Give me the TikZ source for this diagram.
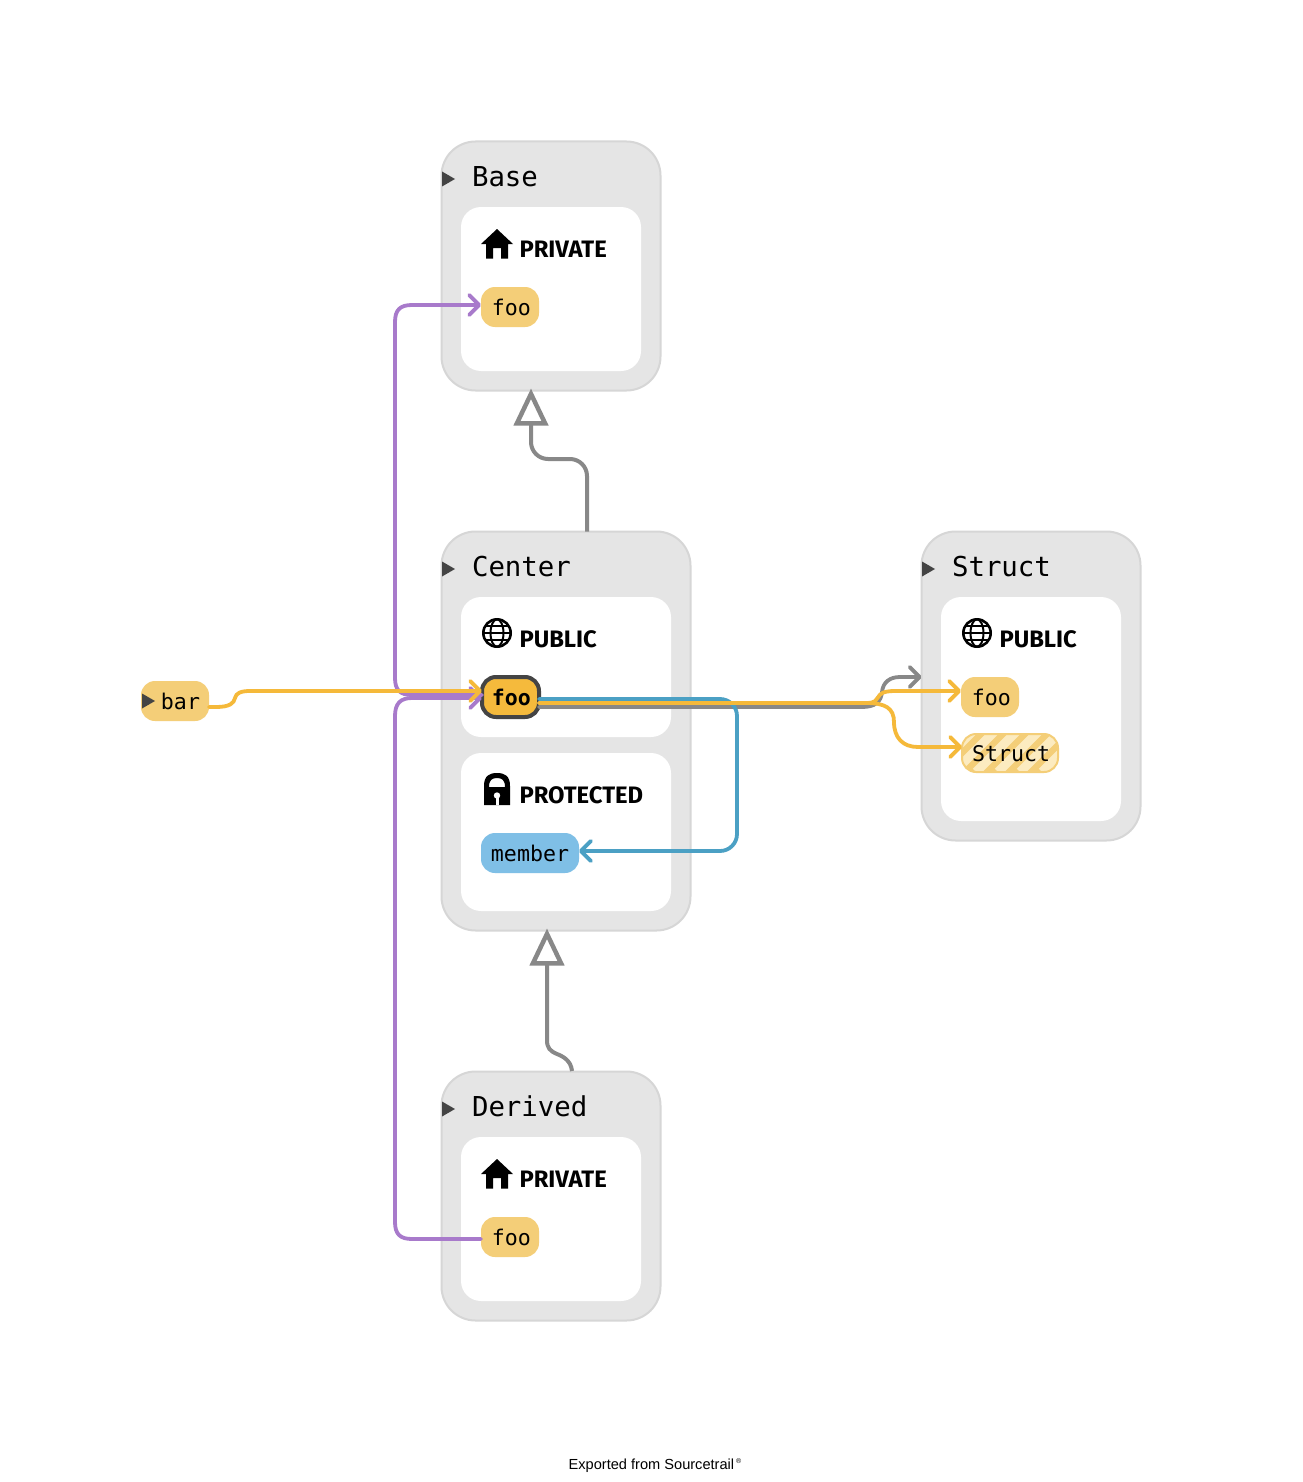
\documentclass[tikz,border=0pt]{standalone}
\usepackage{fontspec}
\setmainfont{Liberation Sans}
\newfontfamily\codefont{DejaVu Sans Mono}
\newfontfamily\accfont{Fira Sans}[UprightFont=* Bold]
\newfontfamily\footfont{Liberation Sans}
\usetikzlibrary{arrows.meta,calc}
\definecolor{grpfill}{HTML}{E5E5E5}
\definecolor{grpline}{HTML}{D6D6D6}
\definecolor{fnfill}{HTML}{F4CE78}
\definecolor{fnactive}{HTML}{F5BA3C}
\definecolor{varfill}{HTML}{7FBFE6}
\definecolor{stripe}{HTML}{FCEBC0}
\definecolor{dark}{HTML}{444444}
\definecolor{inhgray}{HTML}{888888}
\definecolor{ovpurple}{HTML}{A87ACB}
\definecolor{callyel}{HTML}{F5B93A}
\definecolor{useblue}{HTML}{4BA0C4}
\tikzset{
  x=1pt,y=-1pt,
  grp/.style={draw=grpline,line width=2pt,fill=grpfill,rounded corners=34pt,anchor=north west,inner sep=0pt,outer sep=0pt},
  inner box/.style={fill=white,rounded corners=20pt,anchor=north west,inner sep=0pt,outer sep=0pt},
  member/.style={rounded corners=14pt,anchor=north west,inner sep=0pt,outer sep=0pt,minimum height=40pt,text height=17pt,text depth=0pt,
    font=\codefont\fontsize{21.6}{24}\selectfont,text=black},
  fn/.style={member,fill=fnfill},
  title/.style={anchor=base west,inner sep=0pt,outer sep=0pt,font=\codefont\fontsize{27.4}{30}\selectfont,text=black},
  access/.style={anchor=base west,inner sep=0pt,outer sep=0pt,font=\accfont\fontsize{23.8}{28}\selectfont,text=black},
  expander/.style={fill=dark,draw=none},
  edge base/.style={line width=3.8pt,line cap=round},
  chev/.style={-{Straight Barb[length=10pt,width=20pt,line width=3.8pt,round]}},
  inherit/.style={line width=4pt,draw=inhgray,shorten >=-2pt,-{Triangle[open,length=37pt,width=34pt,line width=4.5pt,fill=white]}},
  purple edge/.style={edge base,draw=ovpurple},
  yellow edge/.style={edge base,draw=callyel},
  blue edge/.style={edge base,draw=useblue},
  gray edge/.style={edge base,draw=inhgray},
}
\newcommand{\houseicon}[2]{%
  \fill[black] (#1-16,#2+15) -- (#1,#2) -- (#1+16,#2+15) -- (#1+11,#2+15) -- (#1+11,#2+29.5) -- (#1+4,#2+29.5) -- (#1+4,#2+19) -- (#1-4,#2+19) -- (#1-4,#2+29.5) -- (#1-11,#2+29.5) -- (#1-11,#2+15) -- cycle;
}
\newcommand{\globeicon}[2]{%
  \begin{scope}[draw=black,line width=2.6pt]
    \draw (#1,#2) circle[radius=13.7];
    \draw[line width=2pt] (#1,#2) ellipse[x radius=6.5,y radius=13.7];
    \draw[line width=2pt] (#1-13.7,#2) -- (#1+13.7,#2);
    \draw[line width=2pt] (#1-11.5,#2-7) -- (#1+11.5,#2-7);
    \draw[line width=2pt] (#1-11.5,#2+7) -- (#1+11.5,#2+7);
  \end{scope}
}
\newcommand{\lockicon}[2]{%
  \fill[black,even odd rule] (#1-13,#2+32) -- (#1-13,#2+13) .. controls (#1-13,#2+3) and (#1-8,#2) .. (#1,#2) .. controls (#1+8,#2) and (#1+13,#2+3) .. (#1+13,#2+13) -- (#1+13,#2+32) -- cycle
    (#1-8,#2+14) .. controls (#1-8,#2+7) and (#1-5,#2+5) .. (#1,#2+5) .. controls (#1+5,#2+5) and (#1+8,#2+7) .. (#1+8,#2+14) -- cycle;
  \fill[white] (#1,#2+22.5) circle[radius=3.2];
  \fill[white] (#1-1.5,#2+22.5) rectangle (#1+1.5,#2+32);
}
\begin{document}
\begin{tikzpicture}
\useasboundingbox (0,0) rectangle (1302,1482);
\fill[white] (0,0) rectangle (1302,1482);

% groups
\node[grp,minimum width=219pt,minimum height=249pt] (Base) at (441.5,141.5) {};
\node[inner box,minimum width=180pt,minimum height=164pt] (BasePriv) at (461,207) {};
\node[grp,minimum width=249pt,minimum height=399pt] (Center) at (441.5,531.5) {};
\node[inner box,minimum width=210pt,minimum height=140pt] (CenterPub) at (461,597) {};
\node[inner box,minimum width=210pt,minimum height=158pt] (CenterProt) at (461,753) {};
\node[grp,minimum width=219pt,minimum height=309pt] (Struct) at (921.5,531.5) {};
\node[inner box,minimum width=180pt,minimum height=224pt] (StructPub) at (941,597) {};
\node[grp,minimum width=219pt,minimum height=249pt] (Derived) at (441.5,1071.5) {};
\node[inner box,minimum width=180pt,minimum height=164pt] (DerivedPriv) at (461,1137) {};

% titles
\node[title] (tBase) at (472,186) {Base};
\node[title] (tCenter) at (472,576) {Center};
\node[title] (tStruct) at (952,576) {Struct};
\node[title] (tDerived) at (472,1116) {Derived};
\fill[expander] (442,171.5) -- (455,179) -- (442,186.5) -- cycle;
\fill[expander] (442,561.5) -- (455,569) -- (442,576.5) -- cycle;
\fill[expander] (922,561.5) -- (935,569) -- (922,576.5) -- cycle;
\fill[expander] (442,1101.5) -- (455,1109) -- (442,1116.5) -- cycle;

% access labels
\houseicon{497}{229}
\node[access] (aBase) at (519.5,257) {PRIVATE};
\globeicon{497}{633}
\node[access] (aCenter) at (519.5,647) {PUBLIC};
\lockicon{497}{773}
\node[access] (aProt) at (519.5,803) {PROTECTED};
\globeicon{977}{633}
\node[access] (aStruct) at (999.5,647) {PUBLIC};
\houseicon{497}{1159}
\node[access] (aDerived) at (519.5,1187) {PRIVATE};

% members
\node[fn,minimum width=58pt] (bfoo) at (481,287) {\hspace*{2.5pt}foo};
\node[member,fill=fnactive,draw=dark,line width=4pt,minimum width=57pt,minimum height=40pt,rounded corners=14pt,
      font=\codefont\bfseries\fontsize{21.6}{24}\selectfont] (cfoo) at (482,677) {\hspace*{1.5pt}foo};
\node[member,fill=varfill,minimum width=98pt] (cmember) at (481,833) {member};
\node[fn,minimum width=58pt] (sfoo) at (961,677) {\hspace*{2.5pt}foo};
\node[member,fill=fnfill,draw=fnfill,line width=2pt,minimum width=96pt,minimum height=38pt,
  path picture={
    \foreach \i in {-30,-8,...,130}
      \draw[line width=9pt,stripe] ([xshift=\i pt]path picture bounding box.south west) -- ++(50,-50);
  }] (sstruct) at (962,734) {\hspace*{2pt}Struct};
\node[fn,minimum width=58pt] (dfoo) at (481,1217) {\hspace*{2.5pt}foo};
\node[fn,minimum width=68pt] (bar) at (141,681) {\hspace*{11pt}bar};
\fill[expander] (142,693.5) -- (155,701) -- (142,708.5) -- cycle;

% inheritance
\draw[inherit,rounded corners=17pt] (Center.north west -| 587,0) -- (587,459) -- (531,459) -- (Base.south west -| 531,0);
\draw[inherit] (572,1071) .. controls (571,1060) and (562,1056) .. (557,1054) .. controls (550,1051) and (547,1048) .. (547,1040) -- (Center.south west -| 547,0);

% override
\draw[purple edge,chev] (cfoo.west |- 0,695) -- (412,695) .. controls (400,695) and (395,690) .. (395,678) -- (395,322) .. controls (395,310) and (400,305) .. (412,305) -- (bfoo.west |- 0,305);
\draw[purple edge,chev] (dfoo.west |- 0,1239) -- (412,1239) .. controls (400,1239) and (395,1234) .. (395,1222) -- (395,716) .. controls (395,704) and (400,698) .. (412,698) -- (cfoo.west |- 0,698);

% gray, blue, yellow from foo
\draw[gray edge,chev] (cfoo.east |- 0,707) -- (862,707) .. controls (875,707) and (881,702) .. (882,692) .. controls (883,682) and (890,677) .. (900,677) -- (Struct.west |- 0,677);
\draw[blue edge,chev,rounded corners=17pt] (cfoo.east |- 0,699) -- (737,699) -- (737,851) -- (cmember.east |- 0,851);
\draw[yellow edge,chev] (cfoo.east |- 0,703) -- (866,703) .. controls (885,703) and (870,691) .. (895,691) -- (sfoo.west |- 0,691);
\draw[yellow edge,chev] (cfoo.east |- 0,703) -- (866,703) .. controls (885,703) and (894,708) .. (894,722) .. controls (894,738) and (903,747) .. (918,747) -- (sstruct.west |- 0,747);
\draw[yellow edge,chev] (bar.east |- 0,707) -- (216,707) .. controls (230,707) and (234,703) .. (235,698) .. controls (236,693) and (241,691) .. (250,691) -- (cfoo.west |- 0,691);

% footer
\node[anchor=base,inner sep=0pt,font=\footfont\fontsize{14.6}{16}\selectfont,text=black] (footer) at (655,1469) {Exported from Sourcetrail\hspace{2pt}\raisebox{6pt}{\fontsize{7}{8}\selectfont ®}};
\end{tikzpicture}
\end{document}
